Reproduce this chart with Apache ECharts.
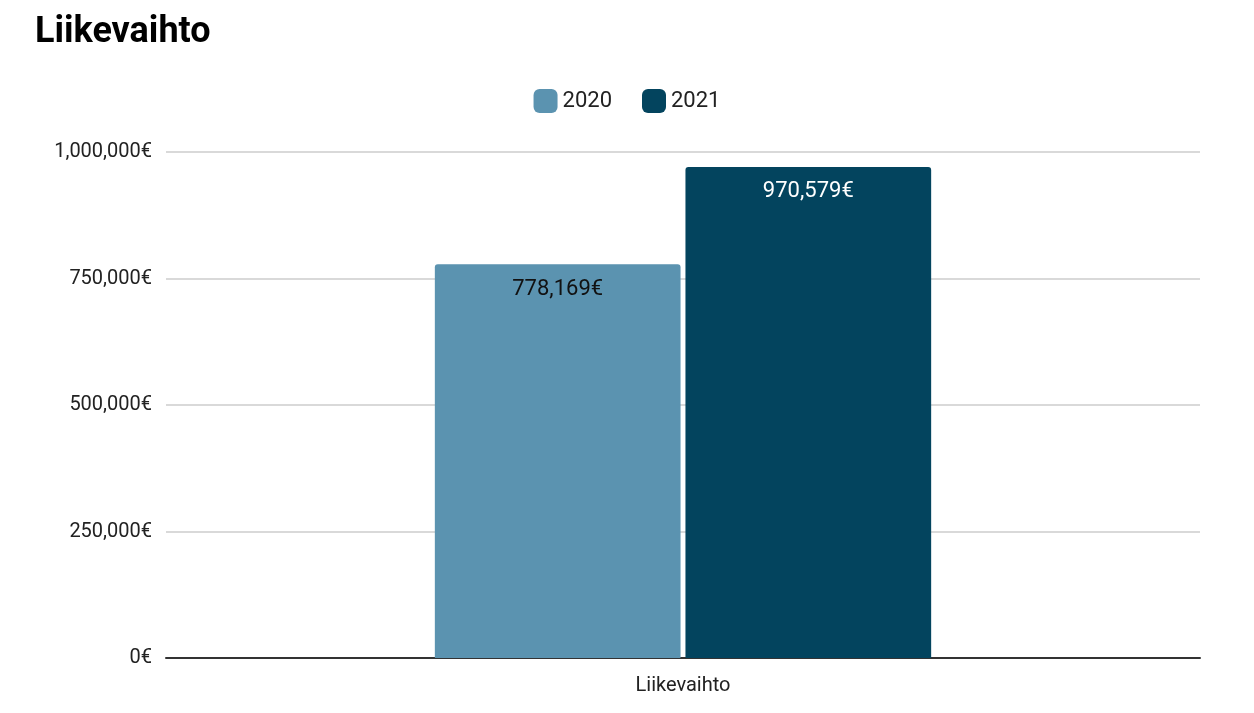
<!DOCTYPE html>
<html><head><meta charset="utf-8">
<script src="https://cdn.jsdelivr.net/npm/echarts@6/dist/echarts.min.js"></script>
<style>html,body{margin:0;padding:0;background:#fff}#c{width:1254px;height:713px}</style>
</head><body><div id="c"></div>
<script>
const categories = ['Liikevaihto'];
const seriesNames = ['2020', '2021'];
const values2020 = [778169];
const values2021 = [970579];
const yTicks = [0, 250000, 500000, 750000, 1000000];

const fmt = v => v.toLocaleString('en-US') + '€';
const chart = echarts.init(document.getElementById('c'));
chart.setOption({
  textStyle: {fontFamily: 'Roboto'},
  title: {text: 'Liikevaihto', left: 30, top: 10, textStyle: {fontSize: 36, fontWeight: 'bold', color: '#000', fontFamily: 'Roboto'}},
  legend: {top: 84, left: 'center', itemWidth: 24, itemHeight: 24, itemGap: 30, textStyle: {fontSize: 22, color: '#222'}, data: seriesNames},
  grid: {left: 166, right: 54, top: 152, bottom: 55},
  xAxis: {type: 'category', data: categories, axisTick: {show: false},
    axisLine: {lineStyle: {color: '#333', width: 2}}, axisLabel: {fontSize: 20, color: '#222', margin: 18}},
  yAxis: {type: 'value', min: yTicks[0], max: yTicks[yTicks.length-1], interval: 250000,
    axisLabel: {fontSize: 20, color: '#222', formatter: fmt, margin: 14},
    splitLine: {lineStyle: {color: '#ccc', width: 1.5}}},
  series: [
    {name: seriesNames[0], type: 'bar', data: values2020, barGap: '2%', barCategoryGap: '52%',
     itemStyle: {color: '#5b93b0', borderRadius: [3,3,0,0]},
     label: {show: true, position: 'insideTop', distance: 14, fontSize: 22, color: '#111', formatter: p => fmt(p.value)}},
    {name: seriesNames[1], type: 'bar', data: values2021,
     itemStyle: {color: '#03445e', borderRadius: [3,3,0,0]},
     label: {show: true, position: 'insideTop', distance: 14, fontSize: 22, color: '#fff', formatter: p => fmt(p.value)}}
  ]
});
</script></body></html>
